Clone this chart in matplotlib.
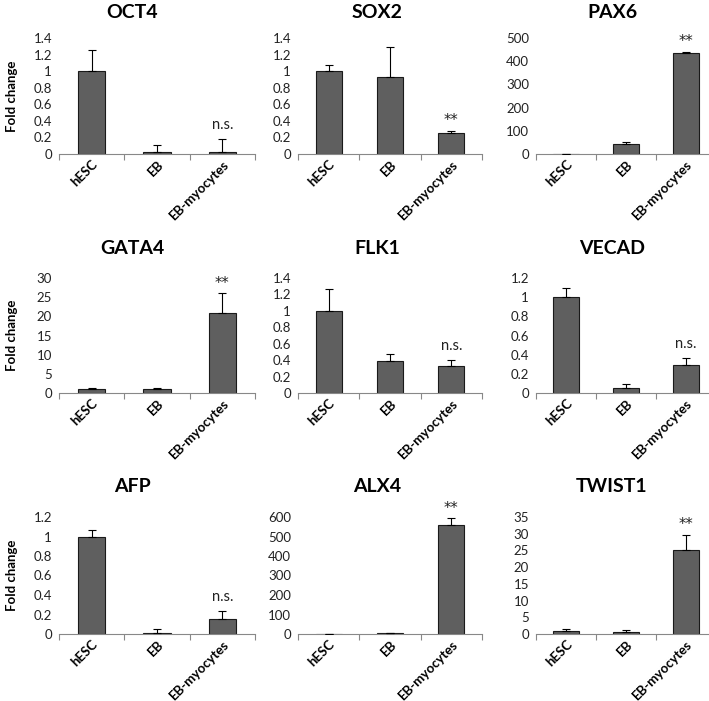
import numpy as np
import matplotlib
matplotlib.use('Agg')
import matplotlib.pyplot as plt

plt.rcParams['font.family'] = ['Lato', 'DejaVu Sans']

# data
groups = ['hESC', 'EB', 'EB-myocytes']
genes = ['OCT4', 'SOX2', 'PAX6', 'GATA4', 'FLK1', 'VECAD', 'AFP', 'ALX4', 'TWIST1']

oct4_mean = [1.0, 0.03, 0.025]
oct4_err = [0.25, 0.075, 0.16]
sox2_mean = [1.0, 0.93, 0.255]
sox2_err = [0.07, 0.36, 0.025]
pax6_mean = [1.0, 43, 435]
pax6_err = [0.5, 10, 5]
gata4_mean = [1.0, 1.0, 21]
gata4_err = [0.2, 0.25, 5]
flk1_mean = [1.0, 0.39, 0.33]
flk1_err = [0.27, 0.08, 0.07]
vecad_mean = [1.0, 0.05, 0.29]
vecad_err = [0.1, 0.045, 0.075]
afp_mean = [1.0, 0.01, 0.15]
afp_err = [0.065, 0.04, 0.09]
alx4_mean = [1.0, 3.0, 558]
alx4_err = [0.5, 1.0, 35]
twist1_mean = [1.0, 0.7, 25]
twist1_err = [0.4, 0.6, 4.7]

means = [oct4_mean, sox2_mean, pax6_mean, gata4_mean, flk1_mean,
         vecad_mean, afp_mean, alx4_mean, twist1_mean]
errs = [oct4_err, sox2_err, pax6_err, gata4_err, flk1_err,
        vecad_err, afp_err, alx4_err, twist1_err]
ymax = [1.4, 1.4, 500, 30, 1.4, 1.2, 1.2, 600, 35]
ystep = [0.2, 0.2, 100, 5, 0.2, 0.2, 0.2, 100, 5]
marks = ['n.s.', '**', '**', '**', 'n.s.', 'n.s.', 'n.s.', '**', '**']

W, H = 709, 701
fig = plt.figure(figsize=(W / 100, H / 100), dpi=100)

# pixel layout of plot areas
col_x = [(59, 255), (298, 482), (536, 716)]
row_y = [(38, 154), (278, 393), (517, 634)]
title_x = [132, 377, 612]
title_y = [13, 248, 487]


def fmt(v):
    s = ('%.1f' % v).rstrip('0').rstrip('.')
    return s


for i, gene in enumerate(genes):
    r, c = divmod(i, 3)
    x0, x1 = col_x[c]
    yt, yb = row_y[r]
    ax = fig.add_axes([x0 / W, 1 - yb / H, (x1 - x0) / W, (yb - yt) / H])
    x = np.arange(len(groups))
    ax.bar(x, means[i], width=0.42, color='#5f5f5f', edgecolor='#1a1a1a',
           linewidth=0.8, zorder=2)
    ax.errorbar(x, means[i], yerr=[np.zeros(3), errs[i]], fmt='none',
                ecolor='black', elinewidth=0.8, capsize=3, capthick=0.8,
                zorder=3)
    ax.set_xlim(-0.5, 2.5)
    ax.set_ylim(0, ymax[i])
    ticks = np.arange(0, ymax[i] + ystep[i] / 2, ystep[i])
    ax.set_yticks(ticks)
    ax.set_yticklabels([fmt(t) for t in ticks], fontsize=9.5, color='#222222')
    ax.tick_params(axis='y', length=0, pad=5)
    ax.set_xticks([-0.5, 0.5, 1.5, 2.5])
    ax.set_xticklabels([])
    ax.tick_params(axis='x', which='major', length=4, width=0.8,
                   color='#888888', direction='out')
    ax.set_xticks(x, minor=True)
    ax.set_xticklabels(groups, minor=True, rotation=45, ha='right',
                       va='top', rotation_mode='anchor', fontsize=9.5,
                       fontweight='bold')
    ax.tick_params(axis='x', which='minor', length=0, pad=3)
    for sp in ['left', 'top', 'right']:
        ax.spines[sp].set_visible(False)
    ax.spines['bottom'].set_color('#888888')
    ax.spines['bottom'].set_linewidth(0.8)

    top = means[i][2] + errs[i][2]
    if marks[i] == '**':
        ax.annotate(marks[i], (2, top), xytext=(0, 2),
                    textcoords='offset points', ha='center', va='bottom',
                    fontsize=10.5, color='#222222', family='DejaVu Sans')
    else:
        ax.annotate(marks[i], (2, top), xytext=(0, 5),
                    textcoords='offset points', ha='center', va='bottom',
                    fontsize=10.5, color='#222222')

    fig.text(title_x[c] / W, 1 - title_y[r] / H, gene, ha='center',
             va='center', fontsize=14, fontweight='bold')
    if c == 0:
        fig.text(12 / W, 1 - (yt + yb) / 2 / H, 'Fold change', rotation=90,
                 ha='center', va='center', fontsize=9.5, fontweight='bold')

fig.savefig('out.png', dpi=100)
